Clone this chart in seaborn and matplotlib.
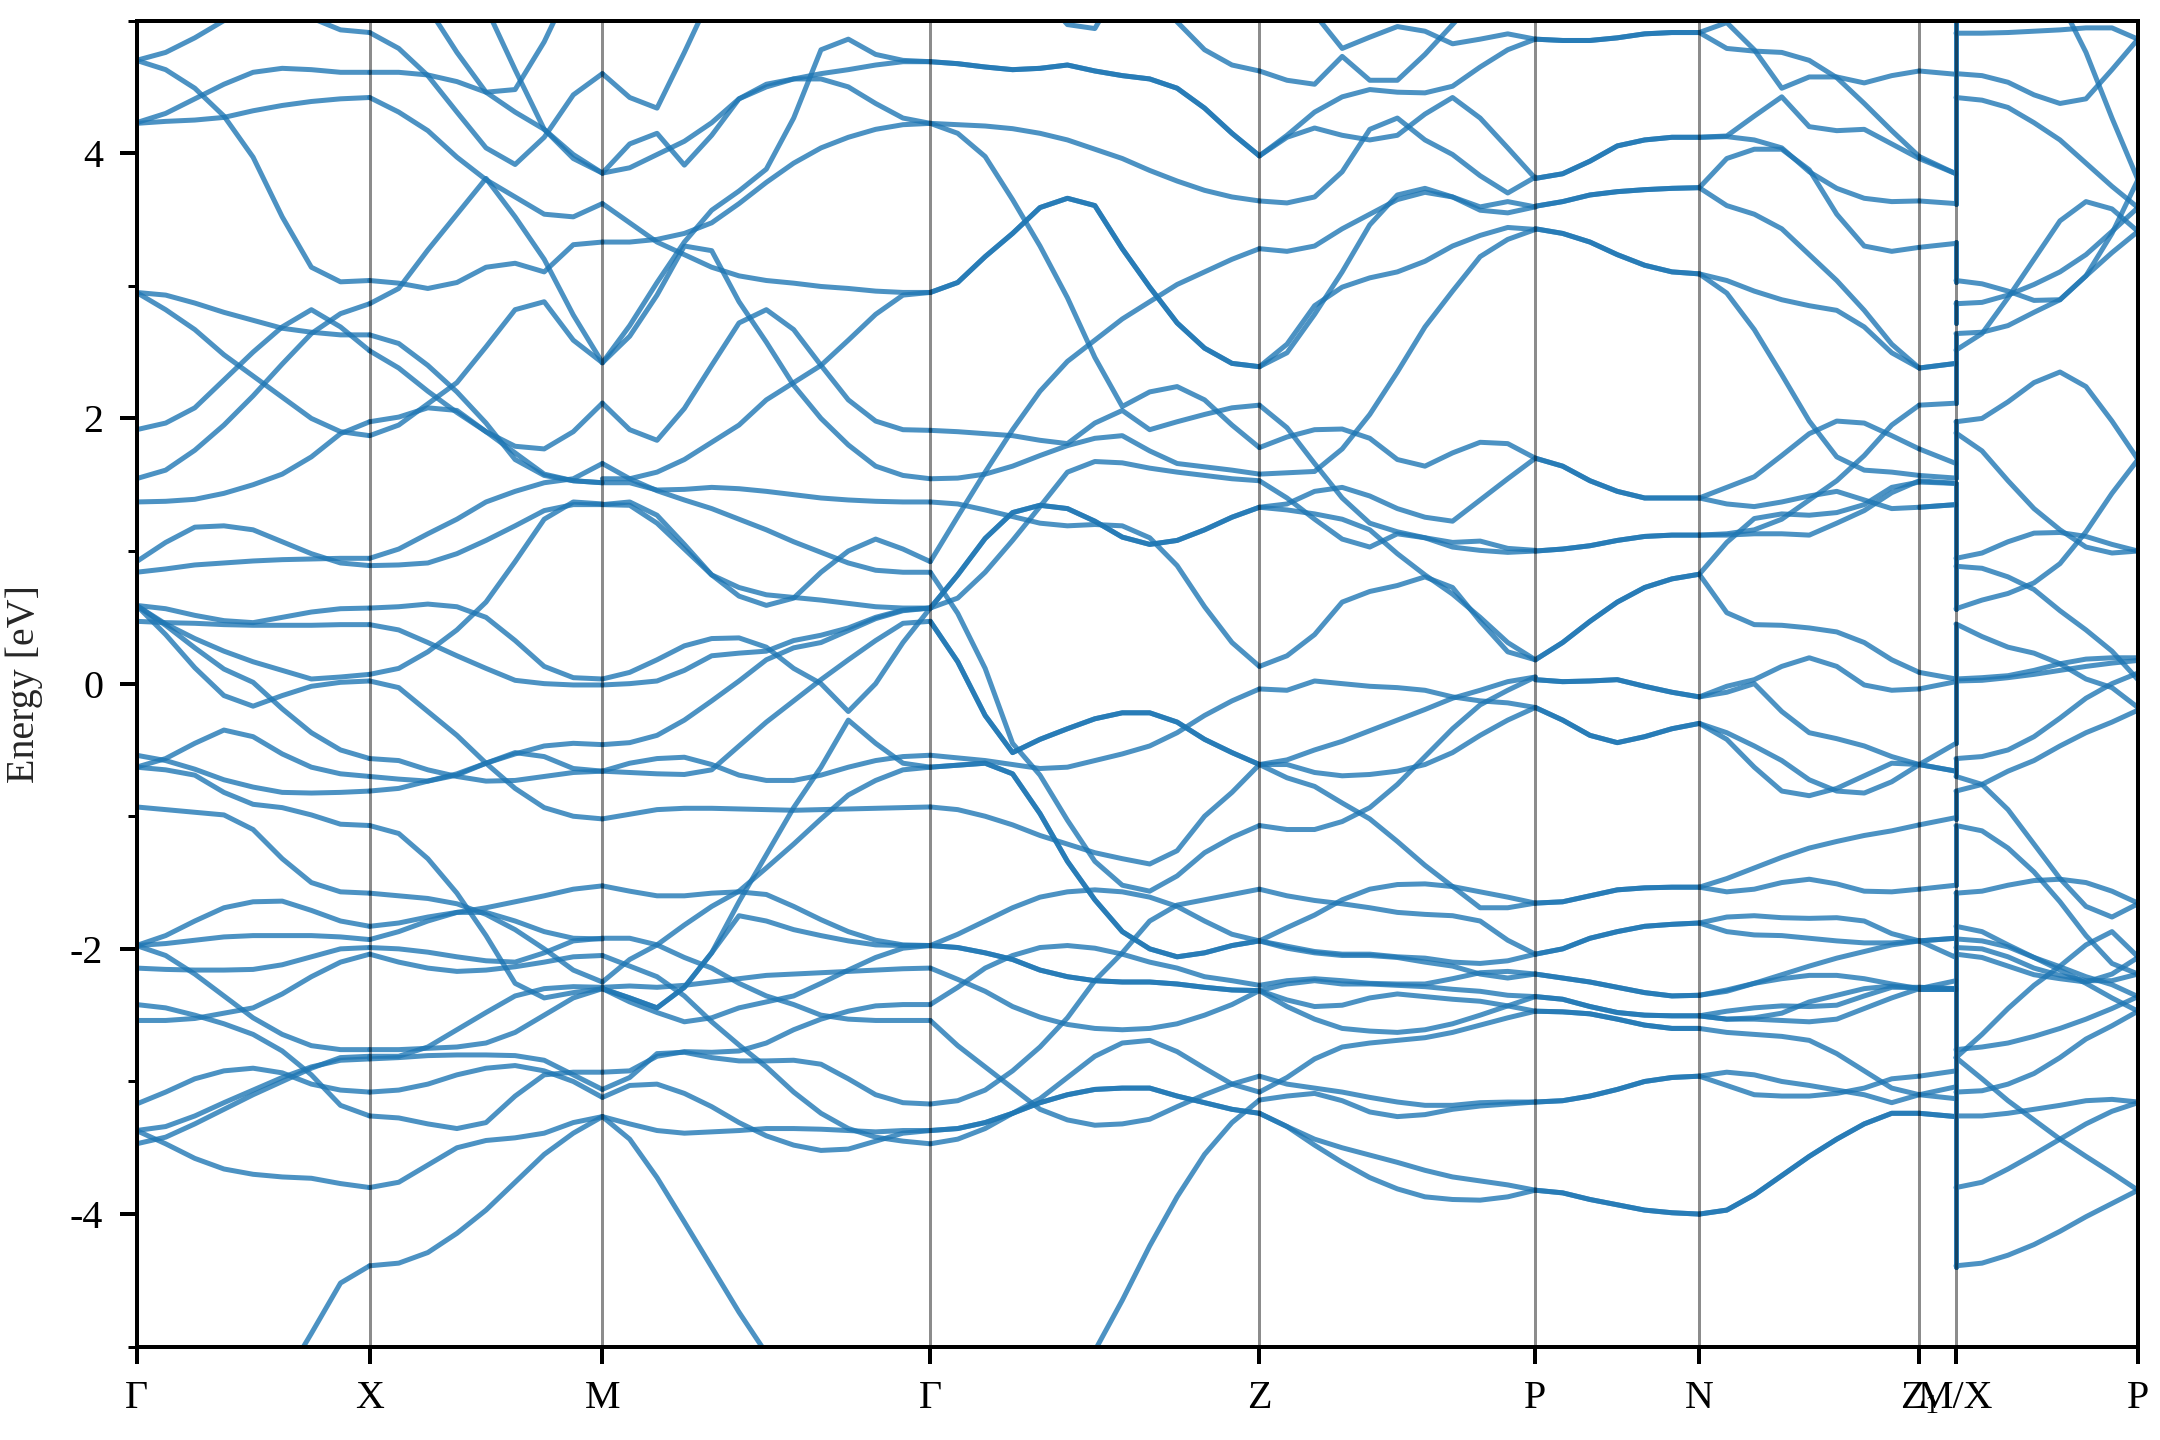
# ---------------------------------------------------------
# Step 0: Import Required Libraries
# ---------------------------------------------------------

import numpy as np
import pandas as pd
import matplotlib.pyplot as plt
from matplotlib.ticker import MultipleLocator
import seaborn as sns

# ---------------------------------------------------------
# Step 1: Band Energies (eV)
# ---------------------------------------------------------

tick_labels = ['Γ', 'X', 'M', 'Γ', 'Z', 'P', 'N', 'Z$_1$', 'M/X', 'P']
tick_pos = [0, 0.583, 1.165, 1.985, 2.808, 3.498, 3.908, 4.458, 4.55, 5.005]

gamma_x = [
    [4.70, 4.76, 4.87, 5.0, 5.08, 5.1, 5.02, 4.93, 4.91],
    [4.70, 4.63, 4.49, 4.28, 3.97, 3.52, 3.14, 3.03, 3.04],
    [4.23, 4.30, 4.41, 4.52, 4.61, 4.64, 4.63, 4.61, 4.61],
    [4.225, 4.24, 4.25, 4.27, 4.32, 4.36, 4.39, 4.41, 4.42],
    [2.95, 2.93, 2.87, 2.80, 2.74, 2.68, 2.65, 2.63, 2.63],
    [2.95, 2.82, 2.67, 2.48, 2.32, 2.16, 2.0, 1.9, 1.87],
    [1.915, 1.965, 2.08, 2.29, 2.50, 2.69, 2.82, 2.69, 2.51],
    [1.546, 1.61, 1.76, 1.95, 2.17, 2.41, 2.64, 2.79, 2.865],
    [1.37, 1.375, 1.39, 1.435, 1.50, 1.58, 1.71, 1.885, 1.975],
    [0.92, 1.065, 1.18, 1.19, 1.16, 1.07, 0.98, 0.91, 0.89],
    [0.84, 0.865, 0.895, 0.91, 0.925, 0.935, 0.94, 0.945, 0.945],
    [0.59, 0.565, 0.515, 0.475, 0.46, 0.50, 0.54, 0.565, 0.57],
    [0.47, 0.46, 0.455, 0.445, 0.44, 0.44, 0.44, 0.445, 0.445],
    [0.59, 0.37, 0.12, -0.09, -0.17, -0.09, -0.02, 0.01, 0.02],
    [0.59, 0.44, 0.27, 0.11, 0.01, -0.19, -0.37, -0.50, -0.565],
    [0.59, 0.45, 0.34, 0.245, 0.165, 0.10, 0.035, 0.05, 0.07],
    [-0.54, -0.58, -0.645, -0.725, -0.78, -0.82, -0.825, -0.82, -0.81],
    [-0.63, -0.565, -0.45, -0.35, -0.40, -0.53, -0.63, -0.68, -0.70],
    [-0.63, -0.65, -0.69, -0.82, -0.91, -0.935, -0.99, -1.06, -1.07],
    [-0.93, -0.95, -0.97, -0.99, -1.10, -1.32, -1.50, -1.57, -1.58],
    [-1.975, -1.90, -1.79, -1.69, -1.645, -1.64, -1.71, -1.79, -1.83],
    [-1.975, -1.96, -1.935, -1.91, -1.90, -1.90, -1.90, -1.91, -1.93],
    [-1.975, -2.05, -2.19, -2.355, -2.52, -2.645, -2.73, -2.76, -2.76],
    [-2.145, -2.155, -2.16, -2.16, -2.155, -2.12, -2.06, -2.0, -1.99],
    [-2.54, -2.54, -2.525, -2.485, -2.445, -2.34, -2.21, -2.10, -2.04],
    [-2.42, -2.445, -2.50, -2.565, -2.645, -2.77, -2.95, -3.18, -3.26],
    [-3.17, -3.08, -2.98, -2.92, -2.90, -2.935, -3.02, -3.065, -3.08],
    [-3.37, -3.34, -3.26, -3.16, -3.065, -2.97, -2.89, -2.84, -2.83],
    [-3.47, -3.42, -3.32, -3.21, -3.10, -3.0, -2.90, -2.82, -2.81],
    [-3.37, -3.47, -3.58, -3.66, -3.70, -3.72, -3.73, -3.77, -3.80],
    [-6.4, -6.3, -6.1, -5.9, -5.6, -5.27, -4.9, -4.52, -4.39],
]

x_m = [
    [4.91, 4.79, 4.585, 4.31, 4.04, 3.915, 4.12, 4.44, 4.60],
    [4.61, 4.61, 4.59, 4.54, 4.46, 4.31, 4.18, 3.99, 3.85],
    [4.42, 4.31, 4.17, 3.97, 3.80, 3.67, 3.54, 3.52, 3.62],
    [5.9, 5.5, 5.1, 4.76, 4.46, 4.48, 4.84, 5.3, 5.7],
    [6.5, 6.2, 5.8, 5.5, 5.1, 4.63, 4.18, 3.96, 3.85],
    [2.865, 2.98, 3.27, 3.54, 3.81, 3.52, 3.2, 2.78, 2.42],
    [2.63, 2.565, 2.40, 2.20, 1.965, 1.69, 1.57, 1.53, 1.515],
    [2.51, 2.38, 2.205, 2.045, 1.90, 1.74, 1.58, 1.53, 1.515],
    [1.87, 1.95, 2.11, 2.27, 2.54, 2.82, 2.88, 2.59, 2.42],
    [3.04, 3.02, 2.98, 3.025, 3.14, 3.17, 3.105, 3.31, 3.33],
    [1.975, 2.01, 2.08, 2.06, 1.90, 1.79, 1.77, 1.90, 2.115],
    [0.89, 0.895, 0.91, 0.98, 1.08, 1.19, 1.305, 1.35, 1.35],
    [0.945, 1.015, 1.13, 1.24, 1.37, 1.45, 1.515, 1.545, 1.66],
    [0.07, 0.115, 0.24, 0.405, 0.615, 0.92, 1.24, 1.37, 1.355],
    [0.57, 0.58, 0.60, 0.58, 0.50, 0.325, 0.13, 0.045, 0.035],
    [0.445, 0.405, 0.31, 0.21, 0.115, 0.025, 0.0, -0.01, -0.01],
    [0.02, -0.03, -0.21, -0.39, -0.60, -0.79, -0.935, -1.0, -1.02],
    [-0.565, -0.58, -0.65, -0.70, -0.735, -0.73, -0.70, -0.67, -0.66],
    [-0.70, -0.72, -0.735, -0.69, -0.60, -0.53, -0.47, -0.45, -0.46],
    [-0.81, -0.79, -0.735, -0.68, -0.60, -0.52, -0.55, -0.64, -0.66],
    [-1.07, -1.13, -1.32, -1.58, -1.90, -2.26, -2.37, -2.33, -2.30],
    [-1.58, -1.60, -1.62, -1.66, -1.74, -1.855, -2.0, -2.16, -2.25],
    [-1.83, -1.805, -1.76, -1.725, -1.69, -1.645, -1.60, -1.55, -1.525],
    [-1.93, -1.87, -1.79, -1.725, -1.725, -1.79, -1.87, -1.92, -1.925],
    [-1.99, -2.0, -2.025, -2.06, -2.09, -2.10, -2.03, -1.94, -1.92],
    [-2.04, -2.10, -2.145, -2.17, -2.16, -2.135, -2.10, -2.06, -2.05],
    [-2.76, -2.76, -2.75, -2.74, -2.71, -2.63, -2.50, -2.37, -2.30],
    [-2.81, -2.81, -2.74, -2.61, -2.48, -2.355, -2.30, -2.285, -2.29],
    [-2.83, -2.82, -2.805, -2.80, -2.80, -2.805, -2.84, -2.95, -3.06],
    [-3.08, -3.065, -3.02, -2.95, -2.90, -2.88, -2.92, -3.0, -3.12],
    [-3.26, -3.275, -3.32, -3.355, -3.31, -3.11, -2.95, -2.93, -2.93],
    [-3.80, -3.76, -3.63, -3.50, -3.445, -3.425, -3.39, -3.31, -3.265],
    [-4.39, -4.37, -4.29, -4.145, -3.97, -3.76, -3.55, -3.39, -3.265],
]

m_gamma = [
    [4.60, 4.42, 4.34, 4.76, 5.2, 5.5, 5.8, 6.0, 6.0, 6.0, 6.0, 6.0, 6.0],
    [3.85, 4.07, 4.15, 3.91, 4.135, 4.41, 4.52, 4.56, 4.56, 4.50, 4.375, 4.265, 4.225],
    [3.85, 3.89, 3.99, 4.09, 4.23, 4.41, 4.50, 4.56, 4.60, 4.63, 4.665, 4.69, 4.69],
    [3.62, 3.475, 3.33, 3.235, 3.14, 3.075, 3.04, 3.02, 2.995, 2.98, 2.96, 2.95, 2.95],
    [3.33, 3.33, 3.35, 3.395, 3.475, 3.62, 3.78, 3.925, 4.04, 4.12, 4.18, 4.215, 4.225],
    [2.42, 2.70, 3.025, 3.33, 3.57, 3.715, 3.88, 4.265, 4.78, 4.86, 4.745, 4.70, 4.69],
    [2.42, 2.62, 2.93, 3.30, 3.265, 2.88, 2.575, 2.25, 2.0, 1.80, 1.64, 1.57, 1.545],
    [2.115, 1.915, 1.835, 2.075, 2.40, 2.72, 2.82, 2.67, 2.40, 2.14, 1.98, 1.915, 1.91],
    [1.545, 1.545, 1.595, 1.69, 1.82, 1.95, 2.14, 2.27, 2.40, 2.59, 2.785, 2.93, 2.95],
    [1.66, 1.545, 1.455, 1.385, 1.32, 1.24, 1.16, 1.07, 0.99, 0.91, 0.855, 0.84, 0.84],
    [1.515, 1.515, 1.46, 1.465, 1.48, 1.47, 1.45, 1.425, 1.40, 1.385, 1.375, 1.37, 1.37],
    [1.35, 1.37, 1.27, 1.05, 0.82, 0.66, 0.59, 0.645, 0.84, 1.0, 1.09, 1.015, 0.92],
    [1.35, 1.345, 1.21, 1.015, 0.82, 0.725, 0.67, 0.65, 0.63, 0.605, 0.58, 0.57, 0.57],
    [0.035, 0.085, 0.18, 0.285, 0.34, 0.345, 0.275, 0.115, 0.0, -0.21, 0.0, 0.31, 0.57],
    [-0.01, 0.0, 0.02, 0.10, 0.21, 0.23, 0.245, 0.325, 0.365, 0.42, 0.50, 0.555, 0.57],
    [-0.46, -0.445, -0.39, -0.275, -0.13, 0.02, 0.18, 0.27, 0.31, 0.40, 0.49, 0.55, 0.57],
    [-0.66, -0.67, -0.68, -0.685, -0.65, -0.47, -0.29, -0.13, 0.03, 0.18, 0.325, 0.455, 0.47],
    [-0.66, -0.60, -0.565, -0.555, -0.61, -0.69, -0.73, -0.73, -0.69, -0.63, -0.58, -0.55, -0.54],
    [-2.30, -2.37, -2.445, -2.29, -2.03, -1.645, -1.29, -0.935, -0.63, -0.275, -0.45, -0.60, -0.63],
    [-2.25, -2.08, -1.97, -1.82, -1.68, -1.565, -1.39, -1.21, -1.02, -0.84, -0.73, -0.65, -0.63],
    [-1.02, -0.985, -0.95, -0.94, -0.94, -0.945, -0.95, -0.955, -0.95, -0.945, -0.94, -0.935, -0.93],
    [-1.525, -1.565, -1.60, -1.60, -1.58, -1.57, -1.59, -1.68, -1.78, -1.87, -1.935, -1.97, -1.975],
    [-1.92, -1.92, -1.97, -2.065, -2.145, -2.26, -2.355, -2.42, -2.50, -2.53, -2.54, -2.54, -2.54],
    [-2.05, -2.13, -2.21, -2.355, -2.55, -2.725, -2.89, -3.08, -3.24, -3.355, -3.42, -3.45, -3.47],
    [-2.30, -2.37, -2.445, -2.29, -2.03, -1.75, -1.79, -1.855, -1.90, -1.94, -1.97, -1.975, -1.975],
    [-2.29, -2.28, -2.29, -2.275, -2.25, -2.225, -2.20, -2.19, -2.18, -2.17, -2.16, -2.15, -2.145],
    [-2.30, -2.40, -2.48, -2.55, -2.52, -2.445, -2.40, -2.355, -2.26, -2.16, -2.065, -1.995, -1.975],
    [-2.93, -2.92, -2.81, -2.775, -2.78, -2.77, -2.71, -2.61, -2.53, -2.47, -2.43, -2.42, -2.42],
    [-3.06, -2.97, -2.79, -2.78, -2.82, -2.845, -2.845, -2.84, -2.87, -2.98, -3.10, -3.16, -3.17],
    [-3.12, -3.03, -3.02, -3.09, -3.19, -3.31, -3.41, -3.48, -3.52, -3.51, -3.45, -3.39, -3.37],
    [-3.265, -3.32, -3.37, -3.39, -3.38, -3.37, -3.355, -3.355, -3.36, -3.37, -3.38, -3.37, -3.37],
    [-3.265, -3.435, -3.725, -4.06, -4.40, -4.74, -5.05, -5.4, -5.8, -6.1, -6.3, -6.4, -6.4],
]

# the first seven rows of this list are drawn twice, they are darker in the picture
gamma_z = [
    [4.69, 4.675, 4.65, 4.63, 4.64, 4.665, 4.62, 4.585, 4.56, 4.49, 4.34, 4.15, 3.98],
    [2.95, 3.025, 3.22, 3.395, 3.59, 3.66, 3.605, 3.28, 2.99, 2.72, 2.53, 2.415, 2.39],
    [0.57, 0.82, 1.095, 1.29, 1.345, 1.32, 1.225, 1.105, 1.05, 1.08, 1.16, 1.255, 1.33],
    [0.47, 0.165, -0.24, -0.52, -0.42, -0.34, -0.265, -0.22, -0.22, -0.29, -0.42, -0.52, -0.61],
    [-0.63, -0.615, -0.60, -0.68, -0.98, -1.34, -1.63, -1.87, -2.0, -2.06, -2.03, -1.975, -1.94],
    [-1.975, -1.99, -2.03, -2.08, -2.16, -2.21, -2.24, -2.25, -2.25, -2.265, -2.29, -2.31, -2.315],
    [-3.37, -3.355, -3.31, -3.24, -3.16, -3.10, -3.06, -3.05, -3.05, -3.11, -3.16, -3.21, -3.24],
    [4.225, 4.215, 4.205, 4.185, 4.15, 4.10, 4.03, 3.96, 3.87, 3.79, 3.72, 3.67, 3.64],
    [4.225, 4.15, 3.975, 3.65, 3.30, 2.91, 2.46, 2.09, 2.2, 2.24, 2.14, 1.95, 1.78],
    [0.92, 1.26, 1.595, 1.915, 2.205, 2.43, 2.59, 2.75, 2.88, 3.01, 3.105, 3.2, 3.28],
    [1.91, 1.90, 1.885, 1.87, 1.835, 1.81, 1.965, 2.06, 1.915, 1.975, 2.03, 2.08, 2.10],
    [1.545, 1.55, 1.58, 1.64, 1.72, 1.795, 1.85, 1.87, 1.755, 1.66, 1.635, 1.61, 1.58],
    [1.37, 1.355, 1.31, 1.26, 1.21, 1.19, 1.20, 1.19, 1.10, 0.89, 0.58, 0.31, 0.13],
    [0.57, 0.645, 0.84, 1.08, 1.335, 1.595, 1.675, 1.665, 1.625, 1.595, 1.57, 1.545, 1.53],
    [0.84, 0.53, 0.115, -0.45, -0.69, -1.03, -1.34, -1.52, -1.565, -1.45, -1.275, -1.16, -1.07],
    [-0.54, -0.56, -0.58, -0.61, -0.64, -0.63, -0.58, -0.53, -0.47, -0.37, -0.24, -0.13, -0.04],
    [-0.93, -0.95, -1.0, -1.065, -1.145, -1.21, -1.275, -1.32, -1.36, -1.26, -1.0, -0.82, -0.61],
    [-1.975, -1.89, -1.79, -1.69, -1.61, -1.57, -1.555, -1.57, -1.61, -1.68, -1.79, -1.89, -1.94],
    [-2.145, -2.23, -2.32, -2.435, -2.515, -2.57, -2.60, -2.61, -2.60, -2.565, -2.50, -2.42, -2.315],
    [-2.42, -2.29, -2.145, -2.05, -1.99, -1.975, -1.995, -2.04, -2.10, -2.145, -2.21, -2.24, -2.275],
    [-2.54, -2.73, -2.89, -3.05, -3.21, -3.29, -3.33, -3.32, -3.285, -3.19, -3.10, -3.02, -2.96],
    [-3.17, -3.145, -3.065, -2.92, -2.74, -2.52, -2.24, -2.03, -1.79, -1.67, -1.63, -1.59, -1.55],
    [-3.47, -3.435, -3.355, -3.24, -3.13, -2.97, -2.81, -2.71, -2.69, -2.775, -2.90, -3.02, -3.08],
    [-6.4, -6.35, -6.2, -6.0, -5.7, -5.35, -5.03, -4.65, -4.24, -3.87, -3.55, -3.31, -3.14],
    [6.0, 6.0, 6.0, 5.6, 5.2, 4.97, 4.94, 5.3, 5.8, 6.0, 6.0, 6.0, 6.0],
    [6.0, 6.0, 6.0, 6.0, 6.0, 6.0, 6.0, 5.8, 5.3, 4.99, 4.78, 4.665, 4.62],
]

z_p = [
    [4.62, 4.55, 4.52, 4.73, 4.55, 4.55, 4.745, 4.97, 5.2, 5.4, 5.5],
    [3.98, 4.135, 4.31, 4.425, 4.48, 4.46, 4.455, 4.505, 4.65, 4.78, 4.86],
    [5.5, 5.2, 5.05, 4.79, 4.875, 4.955, 4.92, 4.825, 4.86, 4.90, 4.86],
    [3.98, 4.12, 4.19, 4.135, 4.10, 4.135, 4.295, 4.42, 4.265, 4.04, 3.81],
    [3.64, 3.625, 3.67, 3.86, 4.18, 4.265, 4.10, 3.99, 3.83, 3.70, 3.82],
    [3.28, 3.26, 3.30, 3.43, 3.54, 3.65, 3.705, 3.67, 3.595, 3.635, 3.595],
    [2.39, 2.495, 2.785, 3.105, 3.46, 3.685, 3.735, 3.67, 3.57, 3.55, 3.595],
    [2.39, 2.56, 2.85, 2.99, 3.06, 3.105, 3.185, 3.30, 3.38, 3.44, 3.425],
    [0.13, 0.21, 0.37, 0.615, 0.695, 0.74, 0.805, 0.725, 0.47, 0.24, 0.18],
    [1.33, 1.31, 1.28, 1.24, 1.16, 0.98, 0.82, 0.675, 0.50, 0.31, 0.18],
    [1.33, 1.355, 1.45, 1.48, 1.415, 1.32, 1.255, 1.225, 1.385, 1.545, 1.70],
    [1.58, 1.59, 1.60, 1.77, 2.03, 2.35, 2.69, 2.96, 3.22, 3.35, 3.425],
    [1.53, 1.40, 1.24, 1.09, 1.03, 1.13, 1.10, 1.065, 1.075, 1.02, 1.005],
    [1.78, 1.86, 1.915, 1.92, 1.85, 1.69, 1.64, 1.74, 1.82, 1.81, 1.70],
    [2.10, 1.93, 1.66, 1.40, 1.21, 1.145, 1.10, 1.03, 1.005, 0.99, 1.0],
    [-0.04, -0.05, 0.02, 0.0, -0.02, -0.03, -0.05, -0.10, -0.13, -0.145, -0.18],
    [-0.61, -0.61, -0.67, -0.695, -0.685, -0.66, -0.61, -0.52, -0.39, -0.275, -0.18],
    [-0.61, -0.575, -0.50, -0.435, -0.355, -0.275, -0.195, -0.11, -0.05, 0.015, 0.05],
    [-0.61, -0.71, -0.775, -0.90, -1.02, -1.19, -1.37, -1.53, -1.69, -1.69, -1.655],
    [-1.07, -1.10, -1.10, -1.04, -0.935, -0.76, -0.55, -0.34, -0.16, -0.05, 0.05],
    [-1.55, -1.60, -1.635, -1.66, -1.69, -1.725, -1.74, -1.75, -1.79, -1.935, -2.04],
    [-1.94, -1.84, -1.745, -1.63, -1.55, -1.515, -1.51, -1.53, -1.57, -1.61, -1.655],
    [-1.94, -1.98, -2.02, -2.04, -2.04, -2.06, -2.07, -2.10, -2.11, -2.09, -2.04],
    [-1.94, -1.995, -2.03, -2.05, -2.05, -2.065, -2.10, -2.13, -2.19, -2.22, -2.19],
    [-2.275, -2.24, -2.225, -2.24, -2.26, -2.265, -2.265, -2.225, -2.18, -2.17, -2.19],
    [-2.315, -2.265, -2.24, -2.265, -2.265, -2.275, -2.285, -2.305, -2.32, -2.35, -2.36],
    [-2.315, -2.385, -2.435, -2.425, -2.37, -2.34, -2.36, -2.38, -2.395, -2.43, -2.47],
    [-2.315, -2.435, -2.53, -2.60, -2.62, -2.63, -2.61, -2.565, -2.50, -2.43, -2.36],
    [-2.96, -3.02, -3.05, -3.08, -3.12, -3.155, -3.18, -3.18, -3.16, -3.155, -3.155],
    [-3.08, -2.97, -2.83, -2.74, -2.71, -2.69, -2.67, -2.63, -2.575, -2.52, -2.47],
    [-3.14, -3.11, -3.09, -3.145, -3.23, -3.265, -3.25, -3.21, -3.185, -3.17, -3.155],
    [-3.24, -3.34, -3.435, -3.50, -3.555, -3.61, -3.67, -3.72, -3.75, -3.78, -3.82],
    [-3.24, -3.34, -3.48, -3.61, -3.725, -3.81, -3.87, -3.89, -3.895, -3.87, -3.82],
]

# every P-N row is drawn twice, the bands pair up on this stretch
p_n = [
    [4.86, 4.85, 4.85, 4.87, 4.90, 4.91, 4.91],
    [3.81, 3.845, 3.94, 4.055, 4.10, 4.12, 4.12],
    [3.60, 3.635, 3.685, 3.71, 3.725, 3.735, 3.74],
    [3.43, 3.395, 3.33, 3.235, 3.155, 3.105, 3.09],
    [1.70, 1.64, 1.53, 1.45, 1.40, 1.40, 1.40],
    [1.0, 1.015, 1.04, 1.08, 1.11, 1.12, 1.12],
    [0.18, 0.31, 0.47, 0.615, 0.725, 0.79, 0.825],
    [0.03, 0.015, 0.02, 0.03, -0.02, -0.065, -0.10],
    [-0.18, -0.275, -0.39, -0.445, -0.40, -0.34, -0.30],
    [-1.655, -1.645, -1.60, -1.555, -1.54, -1.535, -1.535],
    [-2.04, -2.0, -1.92, -1.87, -1.83, -1.815, -1.805],
    [-2.19, -2.22, -2.25, -2.29, -2.33, -2.355, -2.35],
    [-2.36, -2.38, -2.435, -2.48, -2.50, -2.505, -2.505],
    [-2.47, -2.475, -2.49, -2.53, -2.575, -2.60, -2.60],
    [-3.155, -3.145, -3.11, -3.06, -3.0, -2.97, -2.96],
    [-3.82, -3.84, -3.89, -3.93, -3.97, -3.99, -4.0],
]

n_z1 = [
    [4.91, 4.985, 4.78, 4.49, 4.575, 4.575, 4.53, 4.585, 4.62],
    [4.91, 4.79, 4.77, 4.76, 4.70, 4.57, 4.375, 4.17, 3.975],
    [4.12, 4.13, 4.28, 4.425, 4.20, 4.17, 4.18, 4.07, 3.96],
    [4.12, 4.125, 4.10, 4.04, 3.86, 3.735, 3.66, 3.635, 3.64],
    [3.74, 3.96, 4.03, 4.03, 3.875, 3.54, 3.30, 3.26, 3.29],
    [3.74, 3.605, 3.54, 3.43, 3.235, 3.04, 2.815, 2.56, 2.38],
    [3.09, 3.04, 2.96, 2.895, 2.85, 2.815, 2.69, 2.495, 2.38],
    [3.09, 2.945, 2.67, 2.33, 1.98, 1.71, 1.61, 1.595, 1.57],
    [1.40, 1.48, 1.56, 1.72, 1.885, 1.98, 1.965, 1.87, 1.77],
    [1.40, 1.355, 1.335, 1.37, 1.415, 1.45, 1.385, 1.32, 1.33],
    [1.12, 1.13, 1.16, 1.24, 1.385, 1.53, 1.72, 1.95, 2.10],
    [1.12, 1.12, 1.13, 1.13, 1.12, 1.21, 1.305, 1.44, 1.53],
    [0.825, 1.065, 1.245, 1.28, 1.27, 1.29, 1.35, 1.48, 1.52],
    [0.825, 0.535, 0.445, 0.44, 0.42, 0.39, 0.31, 0.18, 0.085],
    [-0.10, -0.065, 0.0, -0.21, -0.37, -0.415, -0.47, -0.55, -0.61],
    [-0.10, -0.02, 0.03, 0.13, 0.195, 0.13, -0.01, -0.05, -0.04],
    [-0.30, -0.42, -0.63, -0.81, -0.845, -0.79, -0.695, -0.60, -0.61],
    [-0.30, -0.37, -0.47, -0.58, -0.725, -0.81, -0.825, -0.74, -0.61],
    [-1.535, -1.47, -1.39, -1.31, -1.24, -1.19, -1.145, -1.11, -1.065],
    [-1.535, -1.57, -1.55, -1.50, -1.475, -1.51, -1.565, -1.57, -1.55],
    [-1.805, -1.76, -1.75, -1.765, -1.77, -1.765, -1.79, -1.885, -1.94],
    [-1.805, -1.87, -1.895, -1.90, -1.92, -1.94, -1.955, -1.955, -1.94],
    [-2.35, -2.31, -2.26, -2.195, -2.13, -2.07, -2.02, -1.97, -1.94],
    [-2.35, -2.32, -2.26, -2.225, -2.20, -2.20, -2.225, -2.265, -2.30],
    [-2.505, -2.47, -2.445, -2.43, -2.435, -2.425, -2.355, -2.29, -2.29],
    [-2.505, -2.53, -2.53, -2.54, -2.55, -2.53, -2.45, -2.37, -2.30],
    [-2.505, -2.53, -2.52, -2.485, -2.40, -2.35, -2.30, -2.28, -2.30],
    [-2.60, -2.63, -2.645, -2.66, -2.69, -2.79, -2.92, -3.05, -3.10],
    [-2.96, -2.93, -2.95, -3.0, -3.03, -3.065, -3.10, -3.16, -3.10],
    [-2.96, -3.03, -3.10, -3.11, -3.11, -3.09, -3.05, -2.98, -2.96],
    [-4.0, -3.97, -3.855, -3.71, -3.565, -3.435, -3.32, -3.24, -3.24],
    [-4.0, -3.97, -3.855, -3.71, -3.565, -3.435, -3.32, -3.24, -3.24],
]

z1_m = [
    [4.62, 4.595], [3.975, 3.845], [3.96, 3.845], [3.64, 3.62], [3.29, 3.32],
    [2.38, 2.415], [2.38, 2.415], [2.10, 2.115], [1.77, 1.66], [1.57, 1.55],
    [1.53, 1.51], [1.52, 1.51], [1.33, 1.35], [1.33, 1.35], [0.085, 0.035],
    [-0.04, 0.015], [-0.61, -0.45], [-0.61, -0.66], [-0.61, -0.66], [-1.065, -1.01],
    [-1.55, -1.52], [-1.94, -1.92], [-1.94, -2.065], [-1.94, -1.92], [-2.30, -2.24],
    [-2.29, -2.30], [-2.29, -2.30], [-2.30, -2.30], [-2.30, -2.30], [-3.10, -3.13],
    [-3.10, -3.04], [-2.96, -2.92], [-3.24, -3.265], [-3.24, -3.265],
]

# jump between the M end and the X start, both sit on the same k
mx_jump = [
    [5.0, 3.62], [3.33, 3.03], [2.875, 2.72], [2.64, 2.115], [1.98, 1.55],
    [1.51, 0.565], [0.45, 0.03], [0.03, -0.45], [-0.565, -0.70], [-0.81, -1.02],
    [-1.07, -1.52], [-1.57, -2.29], [-2.31, -4.40],
]

x_p = [
    [4.905, 4.905, 4.91, 4.92, 4.93, 4.945, 4.945, 4.86],
    [4.60, 4.585, 4.535, 4.44, 4.375, 4.41, 4.63, 4.86],
    [6.5, 6.3, 6.0, 5.6, 5.15, 4.76, 4.265, 3.80],
    [4.42, 4.40, 4.345, 4.23, 4.10, 3.925, 3.75, 3.59],
    [3.04, 3.015, 2.96, 2.89, 2.895, 3.075, 3.25, 3.41],
    [2.865, 2.875, 2.93, 3.01, 3.105, 3.235, 3.41, 3.59],
    [2.64, 2.65, 2.70, 2.80, 2.895, 3.075, 3.395, 3.80],
    [2.515, 2.64, 2.91, 3.20, 3.49, 3.635, 3.58, 3.41],
    [1.975, 2.0, 2.125, 2.27, 2.35, 2.24, 1.98, 1.69],
    [1.89, 1.755, 1.53, 1.32, 1.16, 1.03, 0.985, 1.0],
    [0.945, 0.985, 1.07, 1.135, 1.14, 1.11, 1.05, 1.0],
    [0.565, 0.63, 0.68, 0.76, 0.905, 1.145, 1.435, 1.69],
    [0.885, 0.87, 0.805, 0.71, 0.55, 0.405, 0.245, 0.03],
    [0.45, 0.355, 0.275, 0.23, 0.15, 0.035, -0.03, -0.18],
    [0.035, 0.045, 0.06, 0.10, 0.15, 0.185, 0.195, 0.195],
    [0.02, 0.025, 0.045, 0.07, 0.10, 0.13, 0.155, 0.175],
    [-0.565, -0.55, -0.50, -0.40, -0.26, -0.11, 0.0, 0.08],
    [-0.81, -0.76, -0.66, -0.58, -0.47, -0.37, -0.29, -0.20],
    [-0.70, -0.76, -0.95, -1.21, -1.47, -1.68, -1.76, -1.66],
    [-1.07, -1.11, -1.24, -1.42, -1.645, -1.90, -2.11, -2.19],
    [-1.58, -1.565, -1.52, -1.485, -1.475, -1.50, -1.565, -1.655],
    [-1.83, -1.87, -1.97, -2.065, -2.16, -2.26, -2.37, -2.47],
    [-1.925, -1.94, -1.985, -2.065, -2.135, -2.21, -2.27, -2.36],
    [-1.99, -2.0, -2.06, -2.145, -2.20, -2.24, -2.24, -2.19],
    [-2.04, -2.065, -2.13, -2.195, -2.225, -2.25, -2.19, -2.065],
    [-2.76, -2.74, -2.71, -2.66, -2.60, -2.53, -2.45, -2.36],
    [-2.82, -2.645, -2.45, -2.275, -2.13, -1.97, -1.87, -2.06],
    [-2.82, -2.98, -3.145, -3.29, -3.435, -3.565, -3.69, -3.82],
    [-3.08, -3.07, -3.02, -2.94, -2.82, -2.68, -2.58, -2.47],
    [-3.26, -3.26, -3.24, -3.21, -3.18, -3.145, -3.135, -3.155],
    [-3.80, -3.76, -3.66, -3.55, -3.435, -3.32, -3.225, -3.16],
    [-4.39, -4.37, -4.31, -4.23, -4.13, -4.02, -3.92, -3.82],
]

# ---------------------------------------------------------
# Step 2: Build Long Table for Seaborn
# ---------------------------------------------------------

segments = [
    (0, 1, gamma_x),
    (1, 2, x_m),
    (2, 3, m_gamma),
    (3, 4, gamma_z + gamma_z[:7]),
    (4, 5, z_p),
    (5, 6, p_n + p_n),
    (6, 7, n_z1),
    (7, 8, z1_m),
    (8, 8, mx_jump + mx_jump),
    (8, 9, x_p),
]

rows = []
curve_id = 0
for start, end, curves in segments:
    for energies in curves:
        k = np.linspace(tick_pos[start], tick_pos[end], len(energies))
        for ki, ei in zip(k, energies):
            rows.append((curve_id, ki, ei))
        curve_id += 1
df = pd.DataFrame(rows, columns=['curve', 'k', 'energy'])

# ---------------------------------------------------------
# Step 3: Band Structure Plot
# ---------------------------------------------------------

sns.set_theme(style='ticks')
plt.rcParams['font.family'] = ['Liberation Serif', 'DejaVu Serif']
plt.rcParams['mathtext.fontset'] = 'custom'
plt.rcParams['mathtext.rm'] = 'Liberation Serif'
plt.rcParams['mathtext.default'] = 'rm'
plt.rcParams['axes.unicode_minus'] = False

fig, ax = plt.subplots(figsize=(9, 6), dpi=240)
fig.subplots_adjust(left=0.0632, right=0.9898, top=0.9857, bottom=0.0648)

# High symmetry points as thin grey lines
for pos in tick_pos[1:-1]:
    ax.axvline(pos, color='black', alpha=0.45, lw=0.9, zorder=3)

sns.lineplot(data=df, x='k', y='energy', units='curve', estimator=None, sort=False,
             color='#1f77b4', alpha=0.8, lw=1.5, errorbar=None, ax=ax)

ax.set_xlim(tick_pos[0], tick_pos[-1])
ax.set_ylim(-5, 5)
ax.set_xticks(tick_pos)
ax.set_xticklabels(tick_labels)
ax.set_yticks([-4, -2, 0, 2, 4])
ax.yaxis.set_minor_locator(MultipleLocator(1))
ax.set_xlabel('')
ax.set_ylabel('Energy [eV]', fontsize=12, labelpad=8)
ax.tick_params(axis='both', which='major', length=5, width=1.2, pad=5, labelsize=12, color='black', labelcolor='black')
ax.tick_params(axis='y', which='minor', length=2.7, width=0.9, color='black')
for spine in ax.spines.values():
    spine.set_linewidth(1.2)
    spine.set_color('black')
    spine.set_visible(True)

# ---------------------------------------------------------
# Step 4: Save Figure
# ---------------------------------------------------------

fig.savefig('out.png', dpi=240)
